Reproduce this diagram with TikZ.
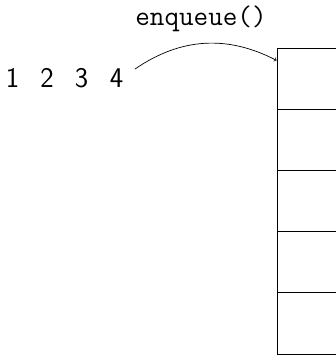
\documentclass[tikz,border=0pt]{standalone}
\usetikzlibrary{calc}
\begin{document}
\begin{tikzpicture}[x=1pt,y=-1pt,
  digit/.style={inner sep=0pt,anchor=base,font=\fontsize{28.5}{34}\selectfont\sffamily},
  label/.style={inner sep=0pt,anchor=base,font=\fontsize{28.3}{33}\selectfont\ttfamily},
  cell/.style={draw,line width=0.9pt,minimum width=140pt,minimum height=61.1pt,anchor=north west,inner sep=0pt}]
\useasboundingbox (0,0) rectangle (335,355);
\node[digit] (n1) at (12.5,88) {1};
\node[digit] (n2) at (47,88) {2};
\node[digit] (n3) at (81.5,88) {3};
\node[digit] (n4) at (116.5,88) {4};
\node[label] (lab) at (201,26) {enqueue()};
\foreach \k in {1,...,5}{
  \node[cell] (c\k) at (276.5,{48+(\k-1)*61.1}) {};
}
\coordinate (start) at ($(n4.north east)+(11.5,0)$);
\coordinate (end) at ($(c1.north west)!0.2!(c1.south west)$);
\draw[->,line width=0.7pt] (start) to[bend left=31] (end);
\end{tikzpicture}
\end{document}
